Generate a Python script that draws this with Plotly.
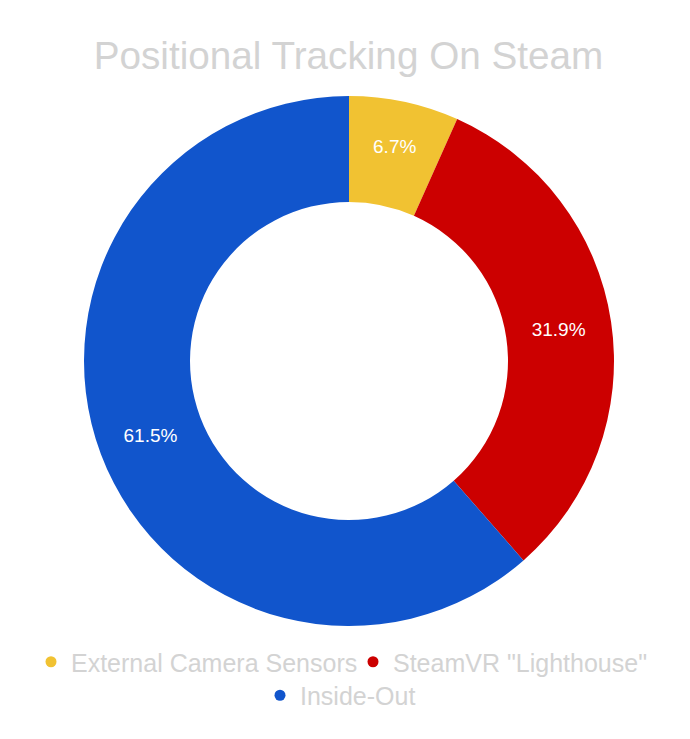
import plotly.graph_objects as go

# Data
categories = ["External Camera Sensors", 'SteamVR "Lighthouse"', "Inside-Out"]
shares = [6.7, 31.9, 61.5]
colors = ["#F1C232", "#CC0000", "#1155CC"]
title_text = "Positional Tracking On Steam"

W, H = 690, 739
FONT = "Arial, Liberation Sans, sans-serif"
GRAY = "#d3d3d3"

fig = go.Figure()

fig.add_trace(go.Pie(
    labels=categories,
    values=shares,
    marker=dict(colors=colors, line=dict(width=0)),
    hole=0.6,
    sort=False,
    direction="clockwise",
    rotation=0,
    texttemplate="%{value}%",
    textposition="inside",
    insidetextorientation="horizontal",
    textfont=dict(family=FONT, size=19, color="white"),
    showlegend=False,
    domain=dict(x=[84 / W, 614 / W], y=[0, 1]),
    hoverinfo="label+value",
))

# Legend entries with circular markers, one legend box per entry
legend_ids = ["legend", "legend2", "legend3"]
for name, col, lg in zip(categories, colors, legend_ids):
    fig.add_trace(go.Scatter(
        x=[None], y=[None], mode="markers", name=name,
        marker=dict(color=col, size=11, symbol="circle"),
        legend=lg, showlegend=True, hoverinfo="skip",
    ))

legend_common = dict(
    orientation="h", xanchor="left", yanchor="middle",
    font=dict(family=FONT, size=25, color=GRAY),
    bgcolor="rgba(0,0,0,0)", itemwidth=30, itemclick=False, itemdoubleclick=False,
)

PT, PB = 96, 113
PH = H - PT - PB


def ly(px):
    return (H - PB - px) / PH


fig.update_layout(
    width=W, height=H,
    paper_bgcolor="white", plot_bgcolor="white",
    margin=dict(l=0, r=0, t=PT, b=PB),
    title=dict(text=title_text, x=348.5 / W, xanchor="center",
               y=1 - 55 / H, yanchor="middle", yref="container",
               font=dict(family=FONT, size=38.7, color=GRAY)),
    xaxis=dict(visible=False),
    yaxis=dict(visible=False),
    legend=dict(x=31 / W, y=ly(662), **legend_common),
    legend2=dict(x=353 / W, y=ly(662), **legend_common),
    legend3=dict(x=260 / W, y=ly(695.5), **legend_common),
)

fig.write_html("out.html", config={"displayModeBar": False},
               post_script="document.body.style.margin='0px';")
